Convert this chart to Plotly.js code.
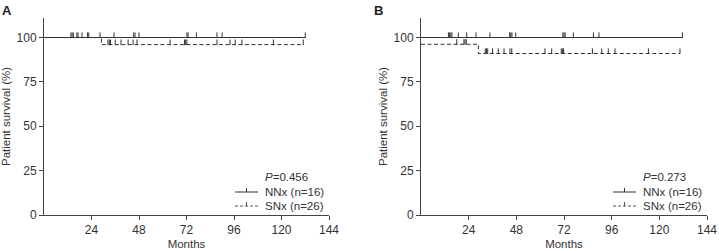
<!DOCTYPE html>
<html><head><meta charset="utf-8">
<script src="https://cdn.plot.ly/plotly-3.0.1.min.js"></script>
<style>html,body{margin:0;padding:0;background:#fff}#c{width:719px;height:251px}</style>
</head><body><div id="c"></div>
<script>
// ---- data (months, survival %) ----
var xTicks = [24, 48, 72, 96, 120, 144];
var yTicks = [0, 25, 50, 75, 100];
var panelLabels = ["A", "B"];
var pValues = ["0.456", "0.273"];
var legendNames = ["NNx (n=16)", "SNx (n=26)"];

// Panel A
var A_nnx_t = [0, 132];
var A_nnx_s = [100, 100];
var A_nnx_cens = [13.6, 14.2, 14.8, 16.6, 17.2, 19.2, 22.0, 22.6, 28.3, 35.4, 45.3, 46.0, 48.0, 72.2, 72.8, 77.0, 87.4, 90.0, 132];
var A_snx_t = [0, 29, 131];
var A_snx_s = [100, 96, 96];
var A_snx_cens = [32.3, 33.0, 33.6, 36.0, 38.9, 42.5, 45.0, 47.0, 63.7, 71.0, 71.6, 72.2, 87.4, 94.0, 96.6, 100.0, 115.9, 131];

// Panel B
var B_nnx_t = [0, 131.6];
var B_nnx_s = [100, 100];
var B_nnx_cens = [13.8, 14.4, 15.0, 15.6, 18.8, 23.0, 27.7, 34.7, 44.6, 45.2, 45.8, 47.7, 71.4, 72.0, 72.6, 76.7, 86.8, 89.6, 131.6];
var B_snx_t = [0, 28.9, 130.4];
var B_snx_s = [96.2, 91, 91];
var B_snx_cens = [18.0, 21.6, 22.2, 22.8, 32.4, 33.0, 33.6, 36.0, 38.9, 41.8, 44.8, 45.7, 62.4, 65.8, 70.6, 71.2, 71.8, 86.3, 91.0, 94.3, 97.7, 114.5, 130.4];

// ---- helpers ----
var W = 719, H = 251;
function px(x){ return x / W; }
function py(y){ return 1 - y / H; }
function survAt(ts, ss, t){ var v = ss[0]; for (var i = 0; i < ts.length; i++){ if (ts[i] <= t) v = ss[i]; } return v; }

var lineCol = '#333';
var dashPat = '4px,2.5px';

function curve(t, s, dash, xa, ya){
  return {x: t, y: s, mode: 'lines', line: {shape: 'hv', color: lineCol, width: 1, dash: dash}, xaxis: xa, yaxis: ya, hoverinfo: 'skip', showlegend: false};
}
function cens(ts, t, s, xa, ya){
  var yy = ts.map(function(c){ return survAt(t, s, c) + 1.3; });
  return {x: ts, y: yy, mode: 'markers', marker: {symbol: 'line-ns-open', size: 4, color: lineCol, line: {color: lineCol, width: 1}}, xaxis: xa, yaxis: ya, hoverinfo: 'skip', showlegend: false};
}

var traces = [
  curve(A_snx_t, A_snx_s, dashPat, 'x', 'y'),
  curve(A_nnx_t, A_nnx_s, 'solid', 'x', 'y'),
  cens(A_nnx_cens, A_nnx_t, A_nnx_s, 'x', 'y'),
  cens(A_snx_cens, A_snx_t, A_snx_s, 'x', 'y'),
  curve(B_snx_t, B_snx_s, dashPat, 'x2', 'y2'),
  curve(B_nnx_t, B_nnx_s, 'solid', 'x2', 'y2'),
  cens(B_nnx_cens, B_nnx_t, B_nnx_s, 'x2', 'y2'),
  cens(B_snx_cens, B_snx_t, B_snx_s, 'x2', 'y2')
];

var font = {family: 'Liberation Sans, Arial, sans-serif', size: 12, color: '#333'};
function xax(dom, anchor){
  return {domain: dom, anchor: anchor, range: [0, 144], tickvals: xTicks, ticktext: xTicks.map(String),
    showgrid: false, zeroline: false, showline: true, linecolor: '#444', linewidth: 1,
    ticks: 'outside', ticklen: 4, tickcolor: '#444', tickfont: {size: 12, color: '#333'},
    title: {text: 'Months', font: {size: 11.5, color: '#333'}, standoff: 3}, automargin: false, fixedrange: true};
}
function yax(anchor){
  return {domain: [py(215), py(18)], anchor: anchor, range: [0, 111], tickvals: yTicks, ticktext: yTicks.map(String),
    showgrid: false, zeroline: false, showline: true, linecolor: '#444', linewidth: 1,
    ticks: 'outside', ticklen: 4, tickcolor: '#444', tickfont: {size: 12, color: '#333'},
    title: {text: 'Patient survival (%)', font: {size: 11.5, color: '#333'}, standoff: 3}, automargin: false, fixedrange: true};
}

var annotations = [];
var shapes = [];
var panels = [
  {lab: panelLabels[0], labX: 0, legX: 265, lineX0: 235, lineX1: 258, p: pValues[0]},
  {lab: panelLabels[1], labX: 372, legX: 643, lineX0: 613, lineX1: 636, p: pValues[1]}
];
panels.forEach(function(p){
  annotations.push({xref: 'paper', yref: 'paper', x: px(p.labX), y: py(1), xanchor: 'left', yanchor: 'top', showarrow: false,
    text: '<b>' + p.lab + '</b>', font: {family: font.family, size: 13, color: '#222'}});
  annotations.push({xref: 'paper', yref: 'paper', x: px(p.legX - 2), y: py(177), xanchor: 'left', yanchor: 'middle', showarrow: false,
    text: '<i>P</i>=' + p.p, font: {family: font.family, size: 11.5, color: '#333'}});
  annotations.push({xref: 'paper', yref: 'paper', x: px(p.legX - 2), y: py(192), xanchor: 'left', yanchor: 'middle', showarrow: false,
    text: legendNames[0], font: {family: font.family, size: 11.5, color: '#333'}});
  annotations.push({xref: 'paper', yref: 'paper', x: px(p.legX - 2), y: py(206), xanchor: 'left', yanchor: 'middle', showarrow: false,
    text: legendNames[1], font: {family: font.family, size: 11.5, color: '#333'}});
  var mid = (p.lineX0 + p.lineX1) / 2;
  shapes.push({type: 'line', xref: 'paper', yref: 'paper', x0: px(p.lineX0), x1: px(p.lineX1), y0: py(192), y1: py(192), line: {color: lineCol, width: 1}});
  shapes.push({type: 'line', xref: 'paper', yref: 'paper', x0: px(mid), x1: px(mid), y0: py(192), y1: py(188), line: {color: lineCol, width: 1}});
  shapes.push({type: 'line', xref: 'paper', yref: 'paper', x0: px(p.lineX0), x1: px(p.lineX1), y0: py(206), y1: py(206), line: {color: '#555', width: 1, dash: '3px,2px'}});
  shapes.push({type: 'line', xref: 'paper', yref: 'paper', x0: px(mid), x1: px(mid), y0: py(206), y1: py(202), line: {color: '#555', width: 1}});
});

var layout = {
  width: W, height: H, margin: {l: 0, r: 0, t: 0, b: 0},
  paper_bgcolor: '#fff', plot_bgcolor: '#fff', font: font, showlegend: false,
  xaxis: xax([px(44), px(329)], 'y'),
  yaxis: yax('x'),
  xaxis2: xax([px(421), px(707)], 'y2'),
  yaxis2: yax('x2'),
  annotations: annotations, shapes: shapes
};
Plotly.newPlot('c', traces, layout, {staticPlot: true, displayModeBar: false});
</script>
</body></html>
